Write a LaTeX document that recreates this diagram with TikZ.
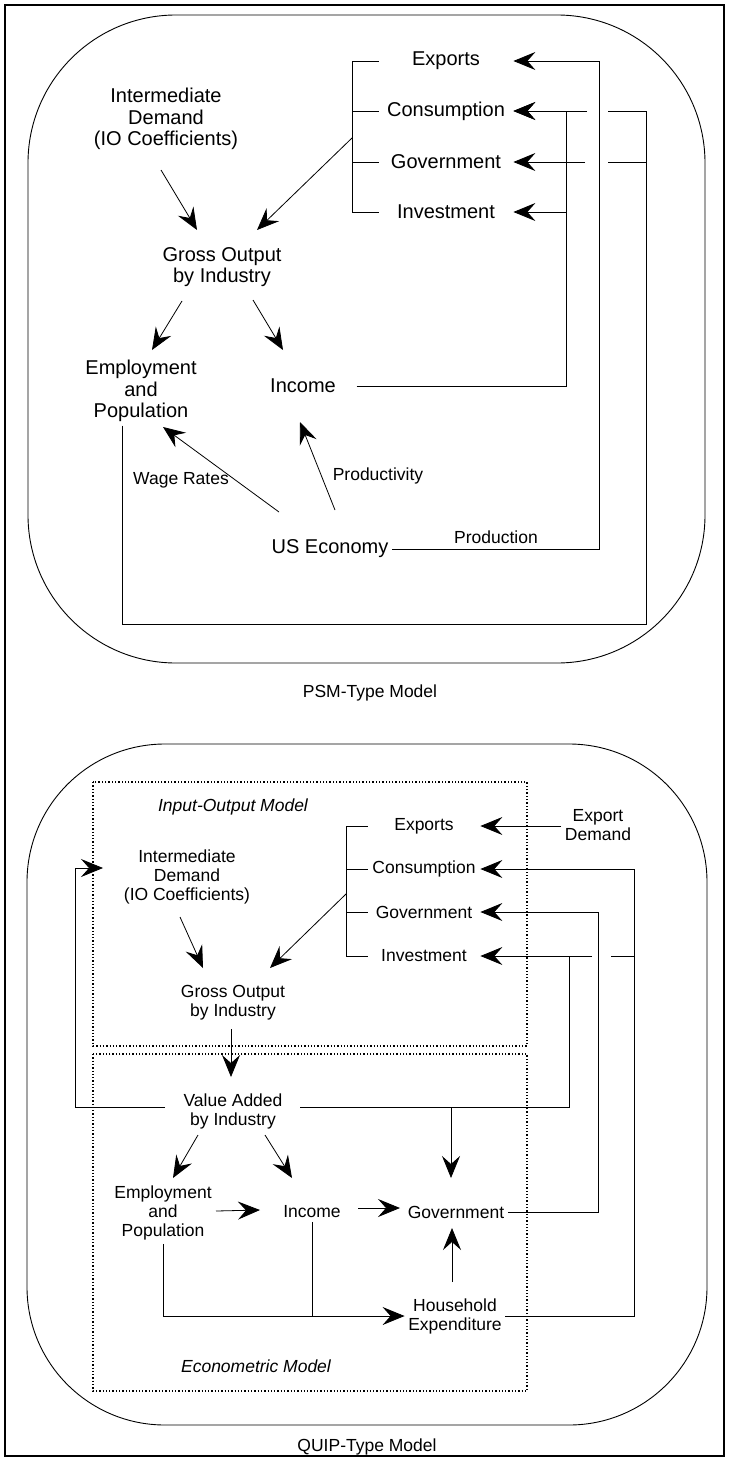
\documentclass[tikz,border=0pt]{standalone}
\usepackage{fontspec}
\setmainfont{Liberation Sans}
\usetikzlibrary{arrows.meta,calc}

\newcommand{\bigtxt}{\fontsize{20}{21.5}\selectfont}
\newcommand{\smalltxt}{\fontsize{17.5}{19}\selectfont}

\tikzset{
    box/.style={font=\bigtxt, align=center},
    sbox/.style={font=\smalltxt, align=center},
    ital/.style={font=\smalltxt\itshape},
    demand/.style={box, minimum width=134pt, inner sep=0pt},
    sdemand/.style={sbox, minimum width=112pt, inner sep=0pt},
    arr/.style={-{Stealth[length=22pt,width=18pt,inset=8pt]}},
    dotbox/.style={dotted, line width=1.3pt}
}

\begin{document}
\begin{tikzpicture}[x=1pt, y=-1pt, line width=0.8pt]
\useasboundingbox (0,0) rectangle (729,1463);

% frames
\draw[line width=2.5pt] (5,5) rectangle (724,1456);
\draw[line width=0.9pt, rounded corners=148pt] (28,15) rectangle (705,663);
\draw[line width=0.9pt, rounded corners=138pt] (27,744) rectangle (707,1425);
\draw[dotbox] (93,782) rectangle (527,1046);
\draw[dotbox] (93,1054) rectangle (527,1391);

% PSM-type model
\node[box] (aInt) at (166,119) {Intermediate\\Demand\\(IO Coefficients)};
\node[demand] (aExp) at (446,61) {Exports};
\node[demand] (aCon) at (446,111) {Consumption};
\node[demand] (aGov) at (446,162) {Government};
\node[demand] (aInv) at (446,212) {Investment};
\node[box] (aGross) at (222,267) {Gross Output\\by Industry};
\node[box] (aEmp) at (141,391) {Employment\\and\\Population};
\node[box] (aInc) at (303,386) {Income};
\node[box] (aUS) at (330,549) {US Economy};
\node[sbox] (aWage) at (181,480) {Wage Rates};
\node[sbox] (aProd) at (378,476) {Productivity};
\node[sbox] (aPrdn) at (496,537) {Production};
\node[sbox] (aTitle) at (370,693) {PSM-Type Model};

\coordinate (aBrk) at (352,138);
\coordinate (aBusI) at (566,386);
\coordinate (aBusP) at (599,549);
\coordinate (aBusE) at (646,624);

\draw (aExp.west) -- (aExp.west -| aBrk) -- (aInv.west -| aBrk) -- (aInv.west);
\draw (aCon.west -| aBrk) -- (aCon.west);
\draw (aGov.west -| aBrk) -- (aGov.west);

\draw[arr] ($(aInt)+(-5,51)$) -- ($(aGross)+(-25,-37)$);
\draw[arr] (aBrk) -- ($(aGross)+(35,-37)$);
\draw[arr] ($(aGross)+(-40,34)$) -- ($(aEmp)+(11,-41)$);
\draw[arr] ($(aGross)+(31,33)$) -- ($(aInc)+(-20,-36)$);
\draw[arr] ($(aUS)+(-51,-37)$) -- ($(aEmp)+(22,36)$);
\draw[arr] ($(aUS)+(5,-39)$) -- ($(aInc)+(-3,36)$);

\draw[arr] ($(aInc.east)+(17,0)$) -- (aBusI) -- (aBusI |- aCon.east) -- (aCon.east);
\draw[arr] (aBusI |- aInv.east) -- (aInv.east);
\draw[arr] (aUS.east) -- (aBusP) |- (aExp.east);
\draw ([xshift=-19pt]aEmp.south) |- (aBusE) -- (aBusE |- aCon.east) -- +(-38,0);
\draw[arr] ($(aBusP |- aCon.east)+(-12,0)$) -- (aCon.east);
\draw (aBusE |- aGov.east) -- +(-38,0);
\draw[arr] ($(aBusP |- aGov.east)+(-14,0)$) -- (aGov.east);

% QUIP-type model
\node[ital] (bIO) at (233,807) {Input-Output Model};
\node[sdemand] (bExp) at (424,826) {Exports};
\node[sdemand] (bCon) at (424,869) {Consumption};
\node[sdemand] (bGov) at (424,912) {Government};
\node[sdemand] (bInv) at (424,956) {Investment};
\node[sbox] (bExpD) at (598,825) {Export\\Demand};
\node[sbox] (bInt) at (187,877) {Intermediate\\Demand\\(IO Coefficients)};
\node[sbox] (bGross) at (233,1003) {Gross Output\\by Industry};
\node[sbox] (bVal) at (233,1111) {Value Added\\by Industry};
\node[sbox] (bEmp) at (163,1213) {Employment\\and\\Population};
\node[sbox] (bInc) at (312,1212) {Income};
\node[sbox] (bGovE) at (456,1212) {Government};
\node[sbox] (bHou) at (455,1316) {Household\\Expenditure};
\node[ital] (bEco) at (256,1366) {Econometric Model};
\node[sbox] (bTitle) at (367,1447) {QUIP-Type Model};

\coordinate (bBrk) at (346,894);
\coordinate (bLoop) at (75,1107);
\coordinate (bBusV) at (569,1107);
\coordinate (bBusG) at (598,1212);
\coordinate (bBusH) at (634,1316);

\draw (bExp.west) -- (bExp.west -| bBrk) -- (bInv.west -| bBrk) -- (bInv.west);
\draw (bCon.west -| bBrk) -- (bCon.west);
\draw (bGov.west -| bBrk) -- (bGov.west);

\draw[arr] ($(bInt)+(-7,40)$) -- ($(bGross)+(-30,-35)$);
\draw[arr] (bBrk) -- ($(bGross)+(37,-35)$);
\draw[arr] ($(bGross)+(-2,26)$) -- ($(bVal)+(-2,-34)$);
\draw[arr] ($(bVal)+(-35,24)$) -- ($(bEmp)+(10,-35)$);
\draw[arr] ($(bVal)+(32,24)$) -- ($(bInc)+(-20,-34)$);
\draw[arr] ($(bEmp)+(53,-2)$) -- ($(bInc)+(-52,-2)$);
\draw[arr] ($(bInc)+(46,-4)$) -- ($(bGovE)+(-56,-4)$);
\draw[arr] ($(bHou)+(-3,-34)$) -- ($(bGovE)+(-4,16)$);

\draw[arr] ($(bVal)+(-68,-4)$) -- (bLoop) |- ($(bInt)+(-84,-9)$);
\draw[arr] ($(bVal)+(67,-4)$) -- (bBusV) -- (bBusV |- bInv.east) -- (bInv.east);
\draw[arr] ($(bGovE |- bBusV)+(-5,0)$) -- ($(bGovE)+(-5,-34)$);
\draw[arr] (bGovE.east) -- (bBusG) |- (bGov.east);
\draw[arr] (bHou.east) -- (bBusH) |- (bCon.east);
\draw (bBusH |- bInv.east) -- +(-23,0);
\draw ($(bBusG |- bInv.east)+(-6,0)$) -- (bBusV |- bInv.east);
\draw[arr] (bEmp.south) |- (bHou.west);
\draw (bInc.south) -- (bInc.south |- bHou.west);
\draw[arr] (bExpD.west |- bExp.east) -- (bExp.east);
\end{tikzpicture}
\end{document}
